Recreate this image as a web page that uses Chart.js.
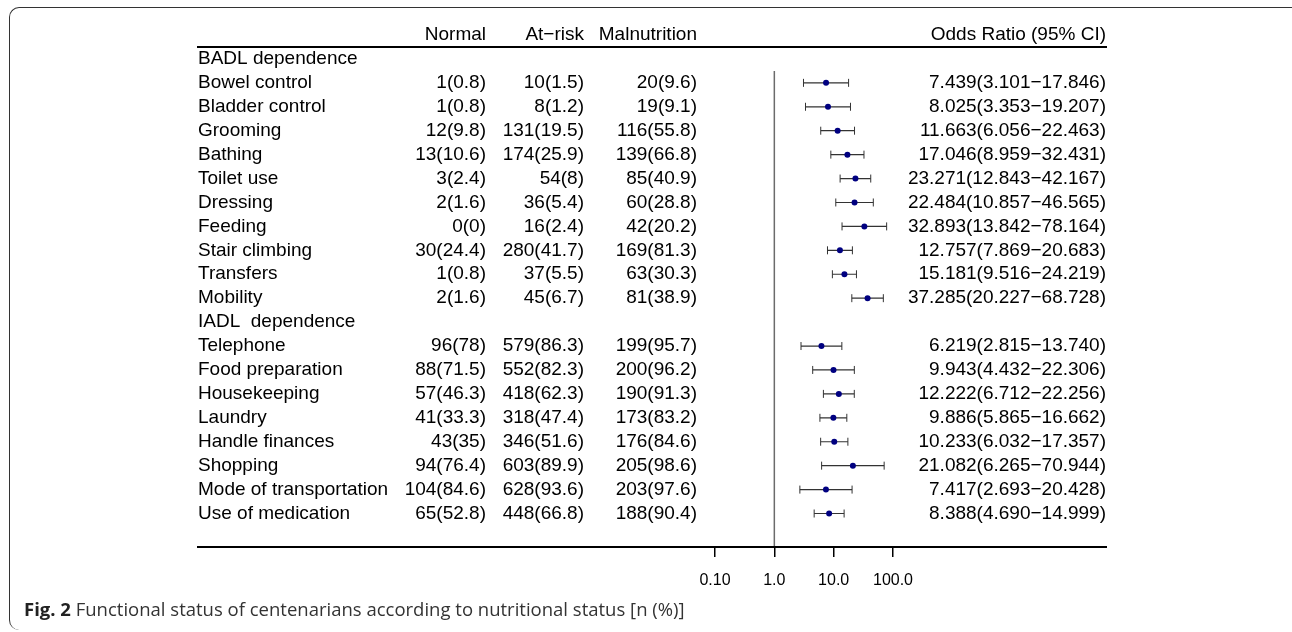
<!DOCTYPE html>
<html>
<head>
<meta charset="utf-8">
<title>Functional status of centenarians according to nutritional status</title>
<script src="https://cdn.jsdelivr.net/npm/chart.js@4.4.1/dist/chart.umd.min.js"></script>
<style>
  html, body { margin: 0; padding: 0; background: #fff; }
  body { width: 1292px; height: 632px; position: relative; overflow: hidden; }
  .frame {
    position: absolute; left: 9px; top: 7px; width: 1320px; height: 622px;
    border-top: 1.5px solid #333; border-left: 1.5px solid #333;
    border-top-left-radius: 10px; border-bottom-left-radius: 10px;
  }
  .wrap { position: absolute; left: 0; top: 0; width: 1292px; height: 632px; }
  .caption {
    position: absolute; left: 24px; top: 596px;
    font-family: "Open Sans", "Noto Sans", sans-serif; font-size: 18.5px; color: #333;
    white-space: nowrap;
  }
  .caption b { color: #222; }
</style>
</head>
<body>
<div class="frame"></div>
<div class="wrap"><canvas id="forest"></canvas></div>
<div class="caption"><b>Fig. 2</b> Functional status of centenarians according to nutritional status [n (%)]</div>
<script>
// 表格行（null 表示分组标题行）
const rowNames = [
    'BADL dependence', 'Bowel control', 'Bladder control', 'Grooming', 'Bathing',
    'Toilet use', 'Dressing', 'Feeding', 'Stair climbing', 'Transfers', 'Mobility',
    'IADL  dependence', 'Telephone', 'Food preparation', 'Housekeeping', 'Laundry',
    'Handle finances', 'Shopping', 'Mode of transportation', 'Use of medication'
];
const normalN   = [null, 1, 1, 12, 13, 3, 2, 0, 30, 1, 2, null, 96, 88, 57, 41, 43, 94, 104, 65];
const normalPct = [null, 0.8, 0.8, 9.8, 10.6, 2.4, 1.6, 0, 24.4, 0.8, 1.6, null, 78, 71.5, 46.3, 33.3, 35, 76.4, 84.6, 52.8];
const atRiskN   = [null, 10, 8, 131, 174, 54, 36, 16, 280, 37, 45, null, 579, 552, 418, 318, 346, 603, 628, 448];
const atRiskPct = [null, 1.5, 1.2, 19.5, 25.9, 8, 5.4, 2.4, 41.7, 5.5, 6.7, null, 86.3, 82.3, 62.3, 47.4, 51.6, 89.9, 93.6, 66.8];
const malN      = [null, 20, 19, 116, 139, 85, 60, 42, 169, 63, 81, null, 199, 200, 190, 173, 176, 205, 203, 188];
const malPct    = [null, 9.6, 9.1, 55.8, 66.8, 40.9, 28.8, 20.2, 81.3, 30.3, 38.9, null, 95.7, 96.2, 91.3, 83.2, 84.6, 98.6, 97.6, 90.4];

// 比值比及 95% 置信区间
const oddsRatio = [null, 7.439, 8.025, 11.663, 17.046, 23.271, 22.484, 32.893, 12.757, 15.181, 37.285,
    null, 6.219, 9.943, 12.222, 9.886, 10.233, 21.082, 7.417, 8.388];
const ciLow  = [null, 3.101, 3.353, 6.056, 8.959, 12.843, 10.857, 13.842, 7.869, 9.516, 20.227,
    null, 2.815, 4.432, 6.712, 5.865, 6.032, 6.265, 2.693, 4.690];
const ciHigh = [null, 17.846, 19.207, 22.463, 32.431, 42.167, 46.565, 78.164, 20.683, 24.219, 68.728,
    null, 13.740, 22.306, 22.256, 16.662, 17.357, 70.944, 20.428, 14.999];

const headers = ['Normal', 'At\u2212risk', 'Malnutrition', 'Odds Ratio (95% CI)'];
const tickVals = [0.1, 1, 10, 100];
const tickLabels = ['0.10', '1.0', '10.0', '100.0'];

const FONT_FAMILY = '"Liberation Sans", Arial, Helvetica, sans-serif';
const TABLE_FONT = '19px ' + FONT_FAMILY;
const COL_NAME = 198;
const COL_RIGHT = [486, 584, 697, 1106];
const LINE_LEFT = 197, LINE_RIGHT = 1107;

function cell(n, p) {
    return n === null ? '' : n + '(' + p + ')';
}

// 构建点、置信区间线段和端点
const pointData = [];
const ciSegments = [];
const capData = [];
rowNames.forEach((_, i) => {
    if (oddsRatio[i] === null) return;
    pointData.push({ x: oddsRatio[i], y: i });
    ciSegments.push({ x: ciLow[i], y: i }, { x: ciHigh[i], y: i }, { x: null, y: null });
    capData.push({ x: ciLow[i], y: i }, { x: ciHigh[i], y: i });
});

// 表格绘制插件：文字和横线按 y 轴位置排布
const tablePlugin = {
    id: 'forestTable',
    beforeDatasetsDraw(chart) {
        const { ctx, scales: { x, y } } = chart;
        const x1 = x.getPixelForValue(1);
        ctx.save();
        ctx.strokeStyle = '#6b6b6b';
        ctx.lineWidth = 1.5;
        ctx.beginPath();
        ctx.moveTo(x1, y.getPixelForValue(0.5));
        ctx.lineTo(x1, y.getPixelForValue(20.4));
        ctx.stroke();
        ctx.restore();
    },
    afterDraw(chart) {
        const { ctx, scales: { y } } = chart;
        ctx.save();
        ctx.font = TABLE_FONT;
        ctx.fillStyle = '#000';
        ctx.textBaseline = 'middle';

        const yHead = y.getPixelForValue(-1);
        ctx.textAlign = 'right';
        headers.forEach((h, k) => ctx.fillText(h, COL_RIGHT[k], yHead));

        rowNames.forEach((name, i) => {
            const py = y.getPixelForValue(i);
            ctx.textAlign = 'left';
            ctx.fillText(name, COL_NAME, py);
            if (oddsRatio[i] === null) return;
            ctx.textAlign = 'right';
            ctx.fillText(cell(normalN[i], normalPct[i]), COL_RIGHT[0], py);
            ctx.fillText(cell(atRiskN[i], atRiskPct[i]), COL_RIGHT[1], py);
            ctx.fillText(cell(malN[i], malPct[i]), COL_RIGHT[2], py);
            const orText = oddsRatio[i].toFixed(3) + '(' + ciLow[i].toFixed(3) + '\u2212' + ciHigh[i].toFixed(3) + ')';
            ctx.fillText(orText, COL_RIGHT[3], py);
        });

        // 表格上下边线
        ctx.strokeStyle = '#000';
        ctx.lineWidth = 2;
        [-0.5, 20.4].forEach(v => {
            const ly = Math.round(y.getPixelForValue(v));
            ctx.beginPath();
            ctx.moveTo(LINE_LEFT, ly);
            ctx.lineTo(LINE_RIGHT, ly);
            ctx.stroke();
        });
        ctx.restore();
    }
};

Chart.defaults.font.family = FONT_FAMILY;
Chart.defaults.color = '#000';

new Chart(document.getElementById('forest'), {
    type: 'scatter',
    data: {
        datasets: [
            {
                label: 'Odds Ratio',
                data: pointData,
                pointStyle: 'circle',
                pointRadius: 3,
                backgroundColor: '#000080',
                borderColor: '#000080',
                borderWidth: 0
            },
            {
                label: 'CI caps',
                data: capData,
                pointStyle: 'line',
                rotation: 90,
                pointRadius: 4,
                borderColor: '#333',
                borderWidth: 1
            },
            {
                label: '95% CI',
                data: ciSegments,
                showLine: true,
                spanGaps: false,
                pointRadius: 0,
                borderColor: '#333',
                borderWidth: 1.2
            }
        ]
    },
    options: {
        responsive: true,
        maintainAspectRatio: false,
        animation: false,
        events: [],
        layout: {
            padding: { left: 715, right: 399, top: 35, bottom: 25 }
        },
        plugins: {
            legend: { display: false },
            tooltip: { enabled: false }
        },
        scales: {
            x: {
                type: 'logarithmic',
                min: 0.1,
                max: 100,
                afterBuildTicks: s => { s.ticks = tickVals.map(v => ({ value: v })); },
                afterFit: s => { s.height = 60; },
                ticks: {
                    callback: (v, i) => tickLabels[i],
                    font: { family: FONT_FAMILY, size: 16 },
                    color: '#000',
                    padding: 14,
                    maxRotation: 0,
                    autoSkip: false
                },
                grid: {
                    drawOnChartArea: false,
                    drawTicks: true,
                    tickLength: 10,
                    color: '#000',
                    lineWidth: 1.5
                },
                border: { display: false }
            },
            y: {
                type: 'linear',
                display: false,
                reverse: true,
                min: -1,
                max: 20.4
            }
        }
    },
    plugins: [tablePlugin]
});
</script>
</body>
</html>
